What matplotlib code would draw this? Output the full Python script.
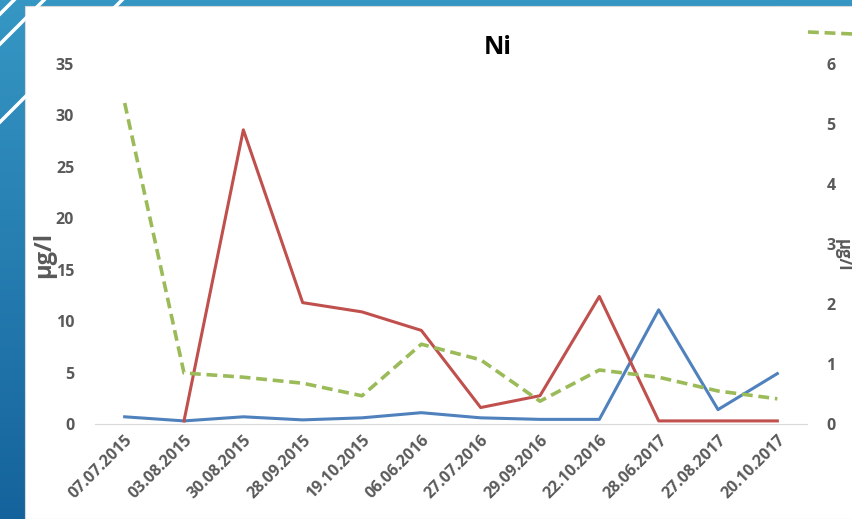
import numpy as np
import matplotlib.pyplot as plt
from matplotlib.patches import Rectangle
from matplotlib.lines import Line2D

plt.rcParams['font.family'] = ['Open Sans', 'DejaVu Sans']

dates = ['07.07.2015', '03.08.2015', '30.08.2015', '28.09.2015', '19.10.2015',
         '06.06.2016', '27.07.2016', '29.09.2016', '22.10.2016', '28.06.2017',
         '27.08.2017', '20.10.2017']
blue_vals = [0.7, 0.3, 0.7, 0.4, 0.6, 1.1, 0.6, 0.45, 0.45, 11.1, 1.4, 4.9]
red_vals = [np.nan, 0.3, 28.6, 11.8, 10.9, 9.1, 1.6, 2.75, 12.4, 0.3, 0.3, 0.3]
green_vals = [5.35, 0.85, 0.78, 0.68, 0.47, 1.33, 1.07, 0.38, 0.9, 0.78, 0.55, 0.42]

W, H = 853, 519
fig = plt.figure(figsize=(W / 100, H / 100), dpi=100)
fig.patch.set_facecolor('white')

# blue slide frame: gradient strip on the left, bar on top
grad = np.linspace(0, 1, 256).reshape(-1, 1)
bg = fig.add_axes([0, 0, 1, 1], zorder=-10)
bg.set_axis_off()
top_c = np.array([0x36, 0x97, 0xc4]) / 255
bot_c = np.array([0x15, 0x63, 0x9c]) / 255
img = top_c[None, None, :] * (1 - grad[:, :, None]) + bot_c[None, None, :] * grad[:, :, None]
bg.imshow(img, aspect='auto', extent=[0, W, H, 0])
for c in [14, 44, 122]:
    bg.plot([0, c + 5], [c, -5], color='white', lw=2.5)
bg.add_patch(Rectangle((25, 6), W - 25, H - 6, facecolor='white', edgecolor='#d8d8d8', lw=0.8))
bg.set_xlim(0, W)
bg.set_ylim(H, 0)

ax = fig.add_axes([95 / W, 1 - 424 / H, (807 - 95) / W, (424 - 64) / H])
x = np.arange(len(dates))
ax.plot(x, blue_vals, color='#4f81bd', lw=2.2, solid_joinstyle='round')
ax.plot(x, red_vals, color='#c0504d', lw=2.2, solid_joinstyle='round')
ax.set_xlim(-0.5, len(dates) - 0.5)
ax.set_ylim(0, 35)
ax.set_yticks(range(0, 36, 5))
ax.set_xticks(x)
ax.set_xticklabels(dates, rotation=45, ha='right', rotation_mode='anchor')
for s in ['top', 'right', 'left']:
    ax.spines[s].set_visible(False)
ax.spines['bottom'].set_color('#d9d9d9')
ax.tick_params(axis='both', length=0, colors='#595959', labelsize=11.5)
ax.tick_params(axis='y', pad=15)
ax.tick_params(axis='x', pad=6)
for t in ax.get_xticklabels() + ax.get_yticklabels():
    t.set_fontweight('bold')
ax.patch.set_alpha(0)

ax2 = ax.twinx()
ax2.plot(x, green_vals, color='#9bbb59', lw=2.6, ls=(0, (3, 1.6)))
ax2.set_ylim(0, 6)
ax2.set_yticks(range(0, 7))
for s in ['top', 'right', 'left', 'bottom']:
    ax2.spines[s].set_visible(False)
ax2.tick_params(axis='y', length=0, colors='#595959', labelsize=11.5, pad=14)
for t in ax2.get_yticklabels():
    t.set_fontweight('bold')

fig.text(498 / W, 1 - 48 / H, 'Ni', ha='center', va='center', fontsize=18, fontweight='bold', color='black')
fig.text(44 / W, 1 - 255 / H, 'µg/l', ha='center', va='center', rotation=90,
         fontsize=17, fontweight='bold', color='#595959')
fig.text(852 / W, 1 - 255 / H, 'µg/l', ha='right', va='center', rotation=270,
         fontsize=12, fontweight='bold', color='#595959')

# legend key peeking in at the top right
fig.add_artist(Line2D([808 / W, 1.0], [1 - 32 / H, 1 - 34 / H], transform=fig.transFigure,
                      color='#9bbb59', lw=2.6, ls=(0, (3, 1.6))))

fig.savefig('out.png', dpi=100)
